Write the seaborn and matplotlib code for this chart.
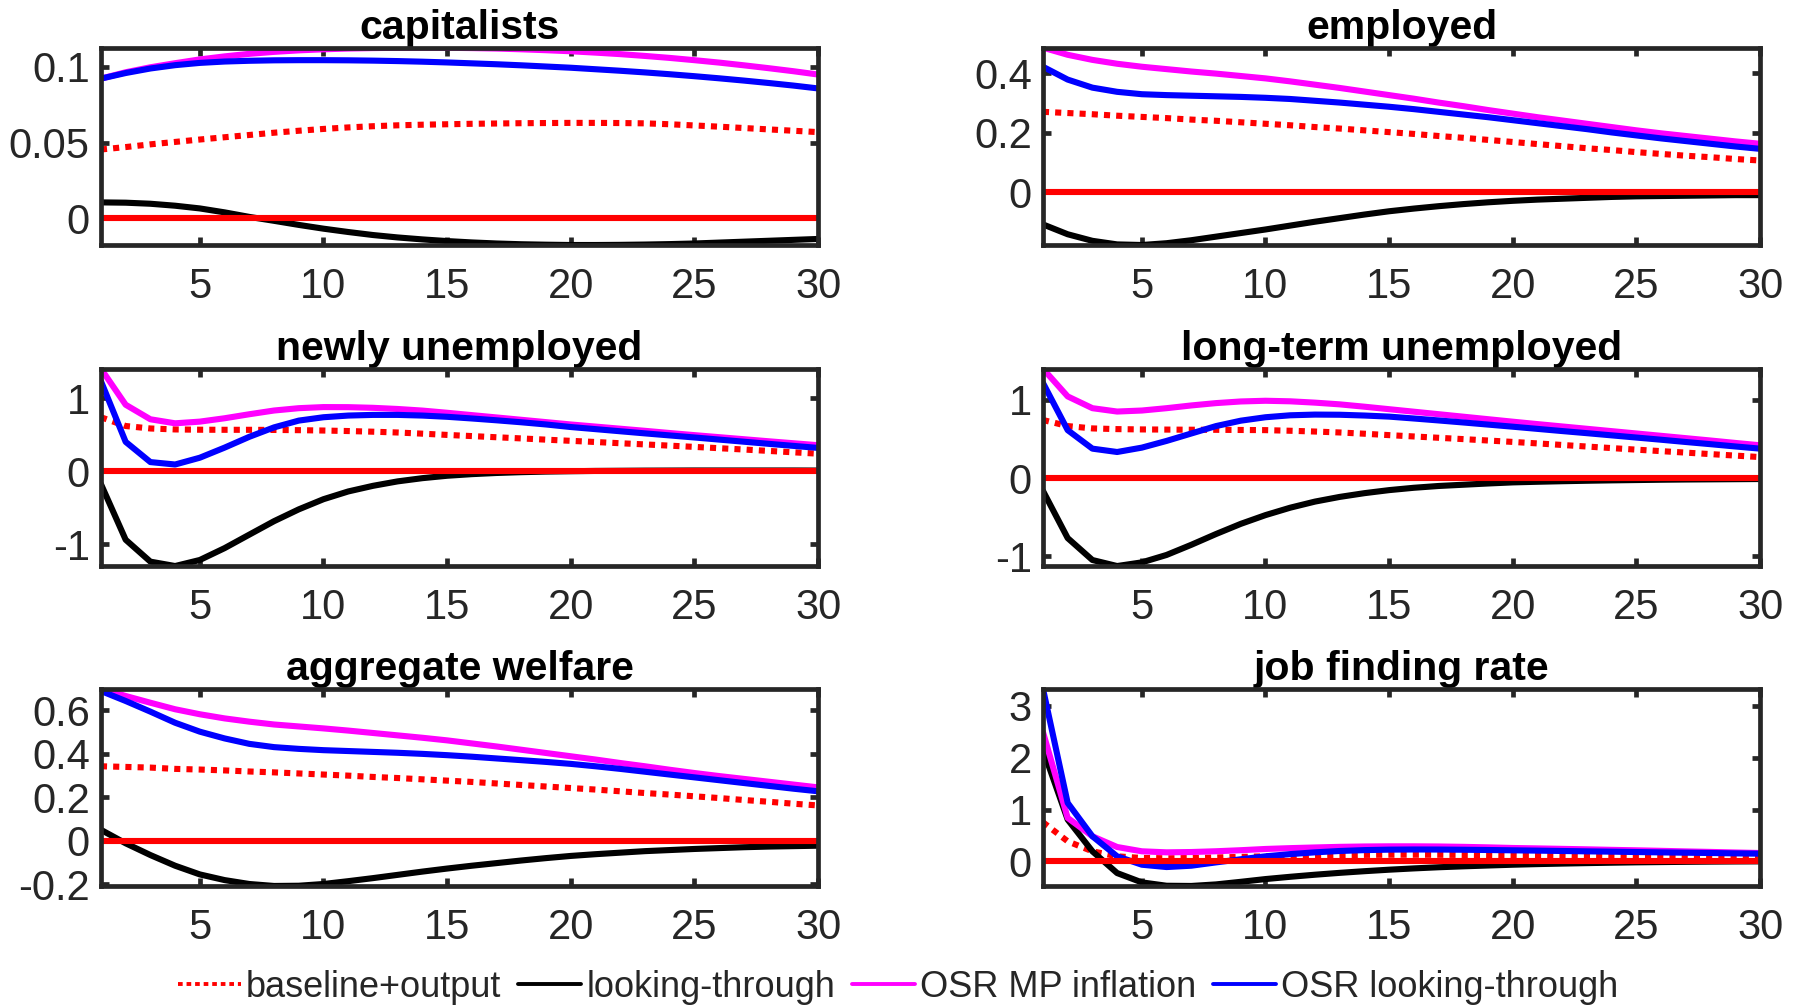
import numpy as np
import pandas as pd
import matplotlib
matplotlib.use("Agg")
import matplotlib.pyplot as plt
from matplotlib.lines import Line2D
import seaborn as sns

steps = list(range(1, 31))

titles = ["capitalists", "employed", "newly unemployed",
          "long-term unemployed", "aggregate welfare", "job finding rate"]
series_labels = ["baseline+output", "looking-through", "OSR MP inflation", "OSR looking-through"]

# capitalists
cap_base = [.0454, .0470, .0488, .0504, .0520, .0535, .0550, .0565, .0578, .0590,
            .0600, .0608, .0614, .0618, .0621, .0624, .0626, .0628, .0629, .0630,
            .0630, .0629, .0627, .0621, .0613, .0605, .0596, .0587, .0578, .0569]
cap_look = [.0104, .0102, .0095, .0082, .0064, .0038, .0008, -.0018, -.0045, -.0070,
            -.0092, -.0112, -.0128, -.0141, -.0152, -.0161, -.0168, -.0173, -.0176, -.0178,
            -.0178, -.0177, -.0175, -.0172, -.0168, -.0162, -.0156, -.0150, -.0144, -.0138]
cap_osr_inf = [.0923, .0965, .0998, .1025, .1050, .1070, .1087, .1100, .1110, .1117,
               .1122, .1125, .1127, .1128, .1127, .1125, .1122, .1117, .1111, .1104,
               .1095, .1085, .1073, .1060, .1045, .1029, .1011, .0992, .0972, .0950]
cap_osr_look = [.0923, .0960, .0990, .1012, .1027, .1036, .1041, .1044, .1045, .1045,
                .1044, .1042, .1039, .1035, .1030, .1024, .1018, .1011, .1003, .0995,
                .0985, .0975, .0964, .0952, .0939, .0925, .0910, .0894, .0877, .0858]

# employed
emp_base = [.270, .266, .262, .257, .253, .249, .244, .240, .235, .230,
            .225, .219, .214, .208, .202, .196, .189, .183, .176, .169,
            .162, .155, .148, .142, .135, .129, .123, .118, .112, .107]
emp_look = [-.107, -.140, -.162, -.174, -.176, -.170, -.160, -.148, -.136, -.124,
            -.111, -.098, -.086, -.074, -.063, -.054, -.046, -.039, -.033, -.028,
            -.024, -.021, -.018, -.015, -.013, -.012, -.011, -.010, -.009, -.009]
emp_osr_inf = [.485, .461, .444, .431, .421, .413, .405, .398, .390, .382,
               .372, .361, .350, .338, .326, .314, .301, .289, .276, .264,
               .252, .241, .230, .219, .208, .198, .189, .180, .171, .163]
emp_osr_look = [.421, .378, .351, .337, .329, .326, .324, .322, .320, .317,
                .313, .307, .301, .294, .287, .279, .270, .261, .252, .242,
                .232, .222, .212, .201, .191, .181, .172, .163, .154, .146]

# newly unemployed
nu_base = [.739, .619, .585, .572, .568, .567, .567, .565, .562, .557,
           .550, .541, .530, .514, .497, .481, .465, .449, .432, .416,
           .400, .383, .367, .350, .333, .315, .297, .278, .259, .240]
nu_look = [-.176, -.938, -1.238, -1.298, -1.215, -1.053, -.868, -.684, -.522, -.383,
           -.277, -.200, -.139, -.095, -.062, -.040, -.024, -.013, -.005, .000,
           .004, .006, .008, .009, .010, .010, .010, .010, .010, .009]
nu_osr_inf = [1.404, .910, .711, .656, .679, .725, .780, .831, .863, .878,
              .877, .868, .852, .830, .800, .768, .736, .704, .672, .640,
              .611, .582, .553, .523, .494, .466, .438, .410, .383, .356]
nu_osr_look = [1.233, .402, .125, .092, .185, .323, .471, .600, .693, .739,
               .762, .771, .771, .762, .745, .722, .697, .670, .640, .605,
               .576, .547, .518, .490, .462, .433, .404, .375, .347, .319]

# long-term unemployed
lu_base = [.743, .665, .635, .626, .622, .620, .618, .617, .615, .613,
           .605, .595, .583, .567, .549, .532, .515, .498, .480, .462,
           .443, .423, .403, .383, .363, .344, .325, .306, .287, .268]
lu_look = [-.164, -.769, -1.050, -1.127, -1.080, -.985, -.855, -.717, -.587, -.475,
           -.380, -.302, -.242, -.194, -.155, -.125, -.102, -.086, -.070, -.056,
           -.048, -.041, -.035, -.030, -.026, -.022, -.019, -.017, -.015, -.013]
lu_osr_inf = [1.400, 1.045, .894, .851, .864, .894, .929, .959, .980, .989,
              .982, .965, .943, .913, .881, .849, .817, .785, .753, .721,
              .690, .660, .630, .600, .570, .540, .510, .480, .449, .419]
lu_osr_look = [1.218, .613, .376, .333, .389, .475, .570, .665, .734, .778,
               .803, .812, .810, .800, .786, .762, .737, .711, .684, .657,
               .629, .601, .574, .546, .518, .490, .461, .433, .404, .376]

# aggregate welfare
aw_base = [.343, .340, .337, .331, .328, .324, .319, .315, .310, .305,
           .300, .294, .289, .283, .277, .271, .264, .257, .250, .243,
           .236, .228, .220, .213, .205, .197, .188, .180, .171, .163]
aw_look = [.051, -.011, -.065, -.114, -.154, -.180, -.198, -.207, -.206, -.198,
           -.185, -.171, -.156, -.141, -.127, -.114, -.102, -.090, -.079, -.069,
           -.061, -.054, -.047, -.042, -.037, -.033, -.029, -.026, -.024, -.022]
aw_osr_inf = [.700, .666, .635, .605, .582, .563, .548, .535, .526, .517,
              .507, .496, .485, .474, .462, .448, .434, .419, .404, .389,
              .374, .358, .343, .327, .312, .298, .285, .272, .259, .246]
aw_osr_look = [.689, .643, .594, .543, .502, .471, .446, .431, .423, .417,
               .413, .409, .405, .400, .394, .387, .379, .371, .363, .354,
               .343, .331, .318, .305, .292, .279, .266, .253, .240, .228]

# job finding rate
jf_base = [.755, .387, .194, .097, .065, .060, .065, .075, .086, .097,
           .106, .114, .120, .125, .128, .128, .127, .124, .120, .115,
           .110, .104, .099, .093, .087, .082, .076, .070, .064, .058]
jf_look = [2.161, .806, .194, -.226, -.406, -.471, -.475, -.445, -.395, -.342,
           -.298, -.258, -.222, -.190, -.161, -.136, -.114, -.096, -.080, -.065,
           -.053, -.043, -.034, -.026, -.019, -.014, -.009, -.005, -.002, .000]
jf_osr_inf = [2.497, .839, .484, .277, .194, .174, .180, .195, .215, .239,
              .255, .268, .280, .287, .290, .290, .287, .280, .270, .258,
              .250, .241, .232, .222, .213, .203, .192, .182, .171, .161]
jf_osr_look = [3.335, 1.129, .484, .097, -.065, -.110, -.084, -.020, .040, .097,
               .140, .174, .200, .217, .226, .229, .228, .224, .219, .213,
               .207, .200, .193, .187, .180, .173, .167, .161, .154, .148]

panel_series = [
    (cap_base, cap_look, cap_osr_inf, cap_osr_look),
    (emp_base, emp_look, emp_osr_inf, emp_osr_look),
    (nu_base, nu_look, nu_osr_inf, nu_osr_look),
    (lu_base, lu_look, lu_osr_inf, lu_osr_look),
    (aw_base, aw_look, aw_osr_inf, aw_osr_look),
    (jf_base, jf_look, jf_osr_inf, jf_osr_look),
]
panel_yticks = [
    [0, 0.05, 0.1],
    [0, 0.2, 0.4],
    [-1, 0, 1],
    [-1, 0, 1],
    [-0.2, 0, 0.2, 0.4, 0.6],
    [0, 1, 2, 3],
]
xticks = [5, 10, 15, 20, 25, 30]

sns.set_style("ticks")
plt.rcParams["font.family"] = ["Liberation Sans", "DejaVu Sans"]

axis_color = "#262626"
colors = ["#FF0000", "#000000", "#FF00FF", "#0000FF"]
styles = [(0, (1, 1)), "-", "-", "-"]
lw = 4.4

fig = plt.figure(figsize=(17.96, 10.07), dpi=100)

col_left = [0.0562, 0.5807]
row_bottom = [0.7567, 0.4379, 0.1202]
ax_w, ax_h = 0.3993, 0.1960

for i, (title, series, yt) in enumerate(zip(titles, panel_series, panel_yticks)):
    r, c = divmod(i, 2)
    ax = fig.add_axes([col_left[c], row_bottom[r], ax_w, ax_h])
    for vals, col, ls, lab in zip(series, colors, styles, series_labels):
        df = pd.DataFrame({"step": steps, "value": vals})
        sns.lineplot(data=df, x="step", y="value", ax=ax, color=col,
                     linewidth=lw, label=lab, legend=False)
        ax.get_lines()[-1].set_dash_capstyle("butt")
        ax.get_lines()[-1].set_linestyle(ls)
    # zero reference line on top of the responses
    ax.axhline(0, color="#FF0000", linewidth=lw, zorder=5)
    allv = np.concatenate([np.asarray(s) for s in series] + [np.array([0.0])])
    ax.set_ylim(allv.min(), allv.max())
    ax.set_xlim(1, 30)
    ax.set_xticks(xticks)
    ax.set_yticks(yt)
    ax.set_yticklabels([f"{v:g}" for v in yt])
    ax.set_xlabel("")
    ax.set_ylabel("")
    ax.set_title(title, fontsize=29.5, fontweight="bold", pad=6, color="black")
    for sp in ax.spines.values():
        sp.set_visible(True)
        sp.set_color(axis_color)
        sp.set_linewidth(3.4)
        sp.set_zorder(10)
    ax.tick_params(axis="both", direction="in", length=6, width=3.4,
                   colors=axis_color, labelsize=30, top=True, right=True)
    ax.tick_params(axis="x", pad=16)
    ax.tick_params(axis="y", pad=8)

legend_handles = [
    Line2D([], [], color=col, linewidth=2.8, linestyle=ls, dash_capstyle="butt")
    for col, ls in zip(colors, [(0, (1.2, 1)), "-", "-", "-"])
]
fig.legend(legend_handles, series_labels, loc="lower center", ncol=4, frameon=False,
           bbox_to_anchor=(0.5, -0.03), fontsize=26, handlelength=1.75,
           handletextpad=0.15, columnspacing=0.45)

fig.savefig("out.png", dpi=100)
